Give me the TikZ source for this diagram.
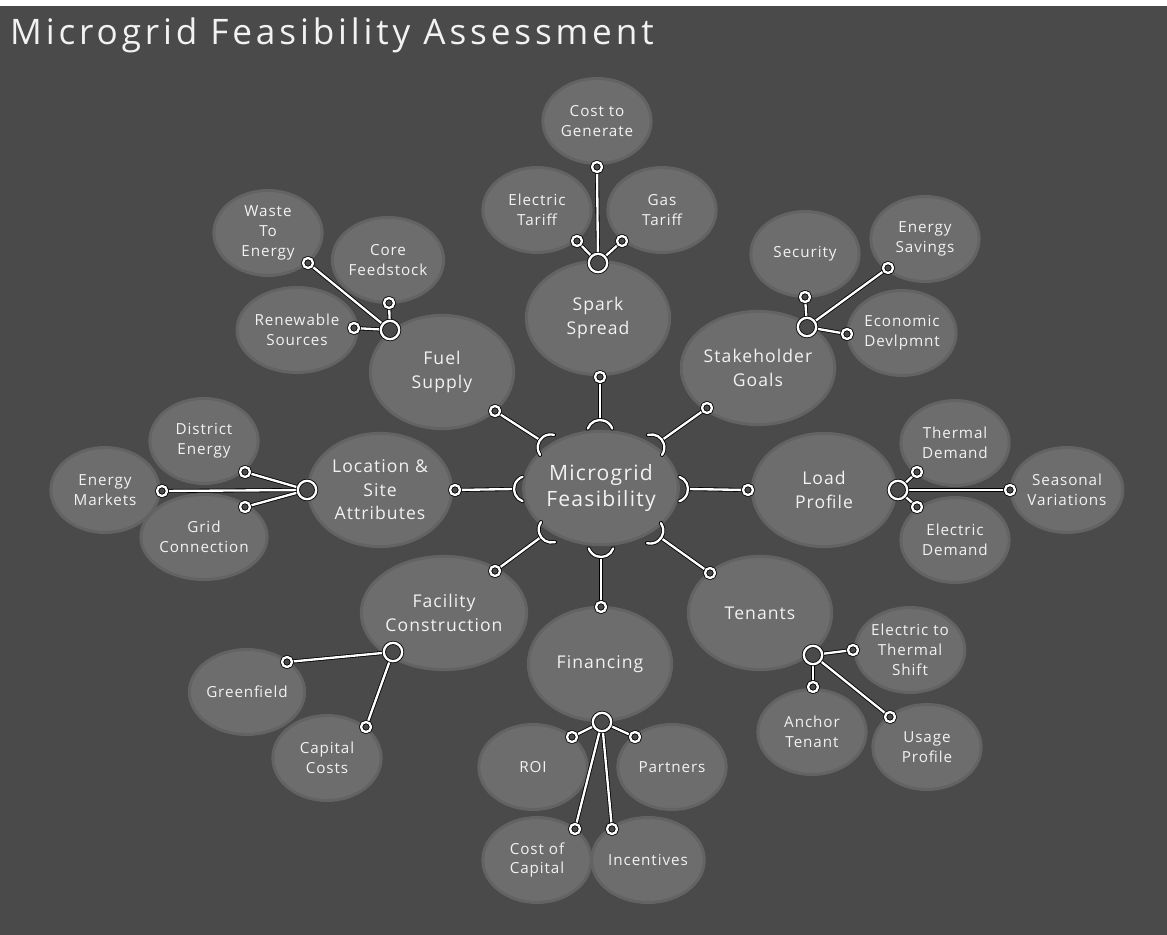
\documentclass[tikz,border=0pt]{standalone}
\usepackage{fontspec}
\setmainfont{Open Sans}[LetterSpace=6]
\newfontfamily\headfont{Open Sans}[LetterSpace=11]
\usepackage{tikz}
\usetikzlibrary{calc,positioning,shapes.geometric}
\definecolor{bgcol}{HTML}{4A4A4A}
\definecolor{bubcol}{HTML}{6D6D6D}
\definecolor{bubedge}{HTML}{636363}
\definecolor{inkcol}{HTML}{F2F2F2}
\pgfdeclarelayer{back}
\pgfdeclarelayer{wires}
\pgfsetlayers{back,wires,main}
\tikzset{%
	core/.style  = {ellipse, fill=bubcol, draw=bubedge, line width=2.5pt, minimum width=4.3cm, minimum height=3.4cm, inner sep=0pt, text=inkcol, align=center, font=\fontsize{18}{22}\selectfont},
	topic/.style = {core, font=\fontsize{15}{20}\selectfont},
	leaf/.style  = {core, minimum width=3.25cm, minimum height=2.55cm, font=\fontsize{13}{17}\selectfont},
	hub/.style   = {circle, draw=black, double=white, double distance=2pt, line width=0.7pt, fill=bgcol, minimum size=0.55cm, inner sep=0pt},
	ball/.style  = {hub, minimum size=0.3cm},
	wire/.style  = {draw=black, double=white, double distance=2pt, line width=0.7pt, line cap=round},
	title/.style = {text=inkcol, font=\headfont\fontsize{30}{34}\selectfont, inner sep=0pt},
}
% socket arc: apex at #1, facing direction #2
\newcommand{\sockarc}[2]{\draw[wire] ($(#1)+(#2+180:13)$) ++(#2-70:13) arc[start angle=#2-70, end angle=#2+70, radius=13];}

\begin{document}
\begin{tikzpicture}[x=0.03cm, y=-0.03cm]
	\useasboundingbox (0,0) rectangle (1167,935);
	
	\begin{pgfonlayer}{back}
	\fill[bgcol] (0,0) rectangle (1167,935);
	\fill[white] (0,0) rectangle (1167,6);
	
	\node[core] (mf) at (601,488) {Microgrid\\Feasibility};
	
	% spark spread
	\node[topic] (spark) at (598,318) {Spark\\Spread};
	\node[leaf] (cost) at (597,121) {Cost to\\Generate};
	\node[leaf] (electariff) at (537,210) {Electric\\Tariff};
	\node[leaf] (gastariff) at (662,210) {Gas\\Tariff};
	
	% fuel supply
	\node[topic] (fuel) at (442,372) {Fuel\\Supply};
	\node[leaf] (waste) at (268,233) {Waste\\To\\Energy};
	\node[leaf] (core) at (388,260) {Core\\Feedstock};
	\node[leaf] (renew) at (297,330) {Renewable\\Sources};
	
	% stakeholder goals
	\node[topic] (stake) at (758,368) {Stakeholder\\Goals};
	\node[leaf] (security) at (805,254) {Security};
	\node[leaf] (savings) at (925,239) {Energy\\Savings};
	\node[leaf] (econ) at (902,333) {Economic\\Devlpmnt};
	
	% location & site
	\node[topic] (site) at (380,490) {Location \&\\Site\\Attributes};
	\node[leaf] (district) at (204,441) {District\\Energy};
	\node[leaf] (markets) at (105,490) {Energy\\Markets};
	\node[leaf] (grid) at (204,537) {Grid\\Connection};
	
	% load profile
	\node[topic] (load) at (824,490) {Load\\Profile};
	\node[leaf] (thermal) at (955,443) {Thermal\\Demand};
	\node[leaf] (seasonal) at (1067,490) {Seasonal\\Variations};
	\node[leaf] (elecdem) at (955,540) {Electric\\Demand};
	
	% facility construction
	\node[topic] (facil) at (444,613) {Facility\\Construction};
	\node[leaf] (green) at (247,692) {Greenfield};
	\node[leaf] (capcost) at (327,758) {Capital\\Costs};
	
	% financing
	\node[topic] (finance) at (600,664) {Financing};
	\node[leaf] (roi) at (533,767) {ROI};
	\node[leaf] (partners) at (672,767) {Partners};
	\node[leaf] (costcap) at (537,860) {Cost of\\Capital};
	\node[leaf] (incent) at (648,860) {Incentives};
	
	% tenants
	\node[topic] (tenants) at (760,613) {Tenants};
	\node[leaf] (shift) at (910,650) {Electric to\\Thermal\\Shift};
	\node[leaf] (anchor) at (812,732) {Anchor\\Tenant};
	\node[leaf] (usage) at (927,747) {Usage\\Profile};
	\end{pgfonlayer}
	
	\node[title, anchor=base west] (head) at (10,45) {Microgrid Feasibility Assessment};
	
	% sockets round the centre
	\coordinate (sockT) at (600,420);
	\coordinate (sockB) at (601,557);
	\coordinate (sockL) at (514,489);
	\coordinate (sockR) at (688,489);
	\coordinate (sockTL) at (540,440);
	\coordinate (sockTR) at (662,440);
	\coordinate (sockBL) at (541,537);
	\coordinate (sockBR) at (661,538);
	
	% balls of the spokes
	\node[ball] (sparkball) at (600,377) {};
	\node[ball] (fuelball) at (495,411) {};
	\node[ball] (stakeball) at (707,408) {};
	\node[ball] (siteball) at (455,490) {};
	\node[ball] (loadball) at (748,490) {};
	\node[ball] (facilball) at (495,571) {};
	\node[ball] (financeball) at (601,607) {};
	\node[ball] (tenantball) at (710,573) {};
	
	% hubs and their balls
	\node[hub] (sparkhub) at (598,263) {};
	\node[ball] (costball) at (597,167) {};
	\node[ball] (electariffball) at (577,241) {};
	\node[ball] (gastariffball) at (622,241) {};
	
	\node[hub] (fuelhub) at (390,330) {};
	\node[ball] (wasteball) at (308,263) {};
	\node[ball] (coreball) at (389,303) {};
	\node[ball] (renewball) at (354,328) {};
	
	\node[hub] (stakehub) at (807,327) {};
	\node[ball] (securityball) at (805,297) {};
	\node[ball] (savingsball) at (888,268) {};
	\node[ball] (econball) at (847,334) {};
	
	\node[hub] (sitehub) at (307,490) {};
	\node[ball] (districtball) at (245,472) {};
	\node[ball] (marketsball) at (162,491) {};
	\node[ball] (gridball) at (245,507) {};
	
	\node[hub] (loadhub) at (898,490) {};
	\node[ball] (thermalball) at (917,472) {};
	\node[ball] (seasonalball) at (1010,490) {};
	\node[ball] (elecdemball) at (917,507) {};
	
	\node[hub] (facilhub) at (393,652) {};
	\node[ball] (greenball) at (287,662) {};
	\node[ball] (capcostball) at (366,727) {};
	
	\node[hub] (financehub) at (602,722) {};
	\node[ball] (roiball) at (572,737) {};
	\node[ball] (partnersball) at (635,737) {};
	\node[ball] (costcapball) at (575,829) {};
	\node[ball] (incentball) at (612,829) {};
	
	\node[hub] (tenanthub) at (813,655) {};
	\node[ball] (shiftball) at (853,650) {};
	\node[ball] (anchorball) at (813,687) {};
	\node[ball] (usageball) at (890,717) {};
	
	\begin{pgfonlayer}{wires}
	% spokes
	\draw[wire] (sockT) -- (sparkball);
	\draw[wire] (sockB) -- (financeball);
	\draw[wire] (sockL) -- (siteball);
	\draw[wire] (sockR) -- (loadball);
	\draw[wire] (sockTL) -- (fuelball);
	\draw[wire] (sockTR) -- (stakeball);
	\draw[wire] (sockBL) -- (facilball);
	\draw[wire] (sockBR) -- (tenantball);
	\sockarc{sockT}{-90}
	\sockarc{sockB}{90}
	\sockarc{sockL}{180}
	\sockarc{sockR}{0}
	\sockarc{sockTL}{-145}
	\sockarc{sockTR}{-35}
	\sockarc{sockBL}{145}
	\sockarc{sockBR}{35}
	
	% clusters
	\draw[wire] (sparkhub) -- (costball);
	\draw[wire] (sparkhub) -- (electariffball);
	\draw[wire] (sparkhub) -- (gastariffball);
	\draw[wire] (fuelhub) -- (wasteball);
	\draw[wire] (fuelhub) -- (coreball);
	\draw[wire] (fuelhub) -- (renewball);
	\draw[wire] (stakehub) -- (securityball);
	\draw[wire] (stakehub) -- (savingsball);
	\draw[wire] (stakehub) -- (econball);
	\draw[wire] (sitehub) -- (districtball);
	\draw[wire] (sitehub) -- (marketsball);
	\draw[wire] (sitehub) -- (gridball);
	\draw[wire] (loadhub) -- (thermalball);
	\draw[wire] (loadhub) -- (seasonalball);
	\draw[wire] (loadhub) -- (elecdemball);
	\draw[wire] (facilhub) -- (greenball);
	\draw[wire] (facilhub) -- (capcostball);
	\draw[wire] (financehub) -- (roiball);
	\draw[wire] (financehub) -- (partnersball);
	\draw[wire] (financehub) -- (costcapball);
	\draw[wire] (financehub) -- (incentball);
	\draw[wire] (tenanthub) -- (shiftball);
	\draw[wire] (tenanthub) -- (anchorball);
	\draw[wire] (tenanthub) -- (usageball);
	\end{pgfonlayer}
	
\end{tikzpicture}
\end{document}
